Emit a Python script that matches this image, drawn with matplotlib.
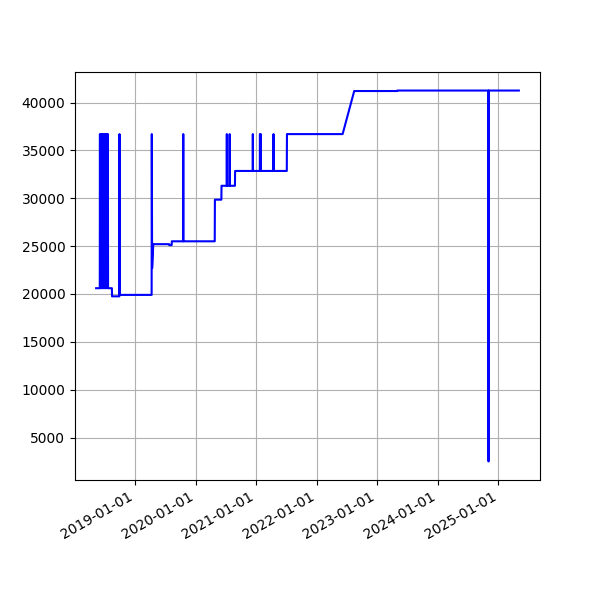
import matplotlib
matplotlib.use("Agg")
import matplotlib.pyplot as plt
import matplotlib.dates as mdates
import pandas as pd

# price history (step-like, with short spikes)
dates = [
    "2018-05-10", "2018-06-01", "2018-06-02", "2018-06-03", "2018-06-08", "2018-06-09",
    "2018-06-14", "2018-06-15", "2018-06-20", "2018-06-21", "2018-06-26", "2018-06-27",
    "2018-07-02", "2018-07-03", "2018-07-08", "2018-07-09", "2018-07-14", "2018-07-15",
    "2018-07-20", "2018-07-21", "2018-08-13", "2018-08-14", "2018-09-27", "2018-09-28",
    "2018-09-29", "2019-04-10", "2019-04-11", "2019-04-13", "2019-04-20", "2019-07-25",
    "2019-07-26", "2019-08-09", "2019-08-10", "2019-10-17", "2019-10-18", "2019-10-19",
    "2020-04-25", "2020-04-26", "2020-06-04", "2020-06-05", "2020-07-06", "2020-07-07",
    "2020-07-08", "2020-07-23", "2020-07-24", "2020-07-25", "2020-08-25", "2020-08-26",
    "2020-12-10", "2020-12-11", "2020-12-12", "2021-01-22", "2021-01-23", "2021-01-24",
    "2021-01-28", "2021-01-29", "2021-04-14", "2021-04-15", "2021-04-16", "2021-07-04",
    "2021-07-05", "2022-06-06", "2022-08-15", "2023-05-01", "2023-05-02", "2024-11-02",
    "2024-11-03", "2024-11-04", "2025-05-05",
]
prices = [
    20600, 20600, 36700, 20600, 36700, 20600,
    36700, 20600, 36700, 20600, 36700, 20600,
    36700, 20600, 36700, 20600, 36700, 20600,
    36700, 20600, 20600, 19750, 19750, 36700,
    19900, 19900, 36700, 22700, 25200, 25200,
    25100, 25100, 25500, 25500, 36700, 25500,
    25500, 29850, 29850, 31300, 31300, 36700,
    31300, 31300, 36700, 31300, 31300, 32850,
    32850, 36700, 32850, 32850, 36700, 32850,
    36700, 32850, 32850, 36700, 32850, 32850,
    36700, 36700, 41200, 41200, 41250, 41250,
    2500, 41250, 41250,
]

df = pd.DataFrame({"date": pd.to_datetime(dates), "price": prices})

fig, ax = plt.subplots(figsize=(6, 6), dpi=100)
ax.plot(df["date"], df["price"], color="blue")
ax.xaxis.set_major_locator(mdates.YearLocator())
ax.xaxis.set_major_formatter(mdates.DateFormatter("%Y-%m-%d"))
ax.grid(True)
fig.autofmt_xdate()
fig.savefig("out.png")
